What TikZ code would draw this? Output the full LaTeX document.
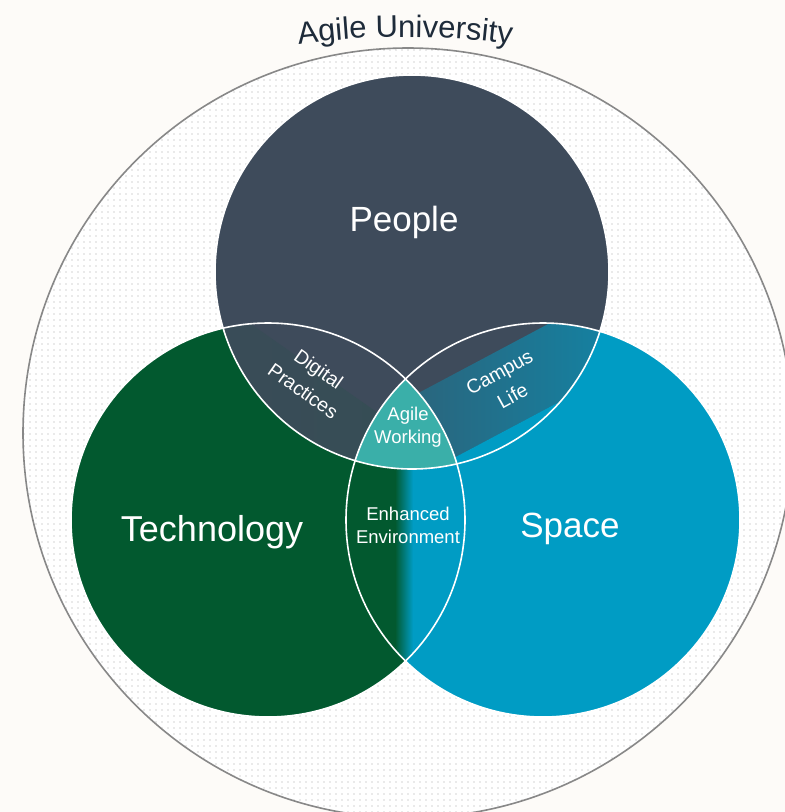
\documentclass[tikz,border=0pt]{standalone}
\usepackage{fontspec}
\setmainfont{Liberation Sans}
\usetikzlibrary{patterns.meta,decorations.text}
\definecolor{bgcol}{HTML}{FDFBF8}
\definecolor{peoplecol}{HTML}{3E4B5B}
\definecolor{techcol}{HTML}{02592F}
\definecolor{spacecol}{HTML}{009CC4}
\definecolor{agilecol}{HTML}{3AAFA9}
\definecolor{titlecol}{HTML}{1E2B3A}
\definecolor{ringcol}{HTML}{888888}
\definecolor{dotcol}{HTML}{A8A8A8}
\colorlet{dpcol}{peoplecol!80!techcol}

\tikzdeclarepattern{
  name=smalldots,
  type=uncolored,
  bounding box={(-3pt,-3pt) and (3pt,3pt)},
  tile size={(6pt,6pt)},
  code={\pgfpathcircle{\pgfpointorigin}{0.6pt}\pgfusepath{fill}}
}

\begin{document}
\begin{tikzpicture}[x=1pt,y=-1pt,
  bigtext/.style={text=white, inner sep=0pt, font=\fontsize{35}{40}\selectfont},
  smalltext/.style={text=white, inner sep=0pt, align=center, font=\fontsize{18.5}{23}\selectfont},
  rottext/.style={text=white, inner sep=0pt, align=center, font=\fontsize{19.5}{27}\selectfont},
  ring/.style={draw=white, line width=1.6pt}]
\fill[bgcol] (0,0) rectangle (785,812);
\useasboundingbox (0,0) rectangle (785,812);
\clip (0,0) rectangle (785,812);

\coordinate (O) at (408,433);
\coordinate (P) at (412,272);
\coordinate (T) at (268,520);
\coordinate (S) at (543,520);

% outer ring with dotted fill
\fill[white] (O) circle[radius=385];
\path[pattern=smalldots, pattern color=dotcol] (O) circle[radius=385];
\draw[ringcol, line width=1.6pt] (O) circle[radius=385];

% title along arc
\path[decorate, decoration={text along path, text align=center, text color=titlecol,
   text={|\fontsize{31}{31}\selectfont|Agile University}}]
   (266.1,49.2) arc[start angle=-100, end angle=-80, radius=800];

% main circles
\fill[techcol] (T) circle[radius=197];
\fill[spacecol] (S) circle[radius=197];
\fill[peoplecol] (P) circle[radius=197];

% Digital Practices (People & Technology)
\begin{scope}
  \clip (P) circle[radius=197];
  \clip (T) circle[radius=197];
  \begin{scope}[shift={(300,395)}, rotate=235]
    \fill[peoplecol] (-300,-300) rectangle (-30,300);
    \shade[left color=peoplecol, right color=dpcol] (-30,-300) rectangle (50,300);
    \fill[dpcol] (50,-300) rectangle (300,300);
  \end{scope}
\end{scope}

% Campus Life (People & Space)
\begin{scope}
  \clip (P) circle[radius=197];
  \clip (S) circle[radius=197];
  \begin{scope}[shift={(512,384)}, rotate=-62]
    \fill[peoplecol] (-300,-300) rectangle (-36,300);
    \shade[left color=peoplecol, right color=spacecol] (-36,-300) rectangle (38,300);
    \fill[spacecol] (38,-300) rectangle (300,300);
  \end{scope}
\end{scope}

% Enhanced Environment (Technology & Space)
\begin{scope}
  \clip (T) circle[radius=197];
  \clip (S) circle[radius=197];
  \fill[techcol] (300,300) rectangle (395,700);
  \shade[left color=techcol, right color=spacecol] (395,300) rectangle (413,700);
  \fill[spacecol] (413,300) rectangle (500,700);
\end{scope}

% Agile Working (all three)
\begin{scope}
  \clip (P) circle[radius=197];
  \clip (T) circle[radius=197];
  \clip (S) circle[radius=197];
  \fill[agilecol] (300,300) rectangle (500,500);
\end{scope}

% white outlines
\draw[ring] (T) circle[radius=197];
\draw[ring] (S) circle[radius=197];
\draw[ring] (P) circle[radius=197];

% labels
\node[bigtext] (people) at (404,222) {People};
\node[bigtext, font=\fontsize{36}{40}\selectfont] (tech) at (212,532) {Technology};
\node[bigtext] (space) at (570,529) {Space};
\node[smalltext] (agile) at (408,427) {Agile\\Working};
\node[smalltext] (enh) at (408,525) {Enhanced\\Environment};
\node[rottext, rotate=-35] (digital) at (311,380) {Digital\\Practices};
\node[rottext, rotate=29] (campus) at (506,384) {Campus\\Life};
\end{tikzpicture}
\end{document}
